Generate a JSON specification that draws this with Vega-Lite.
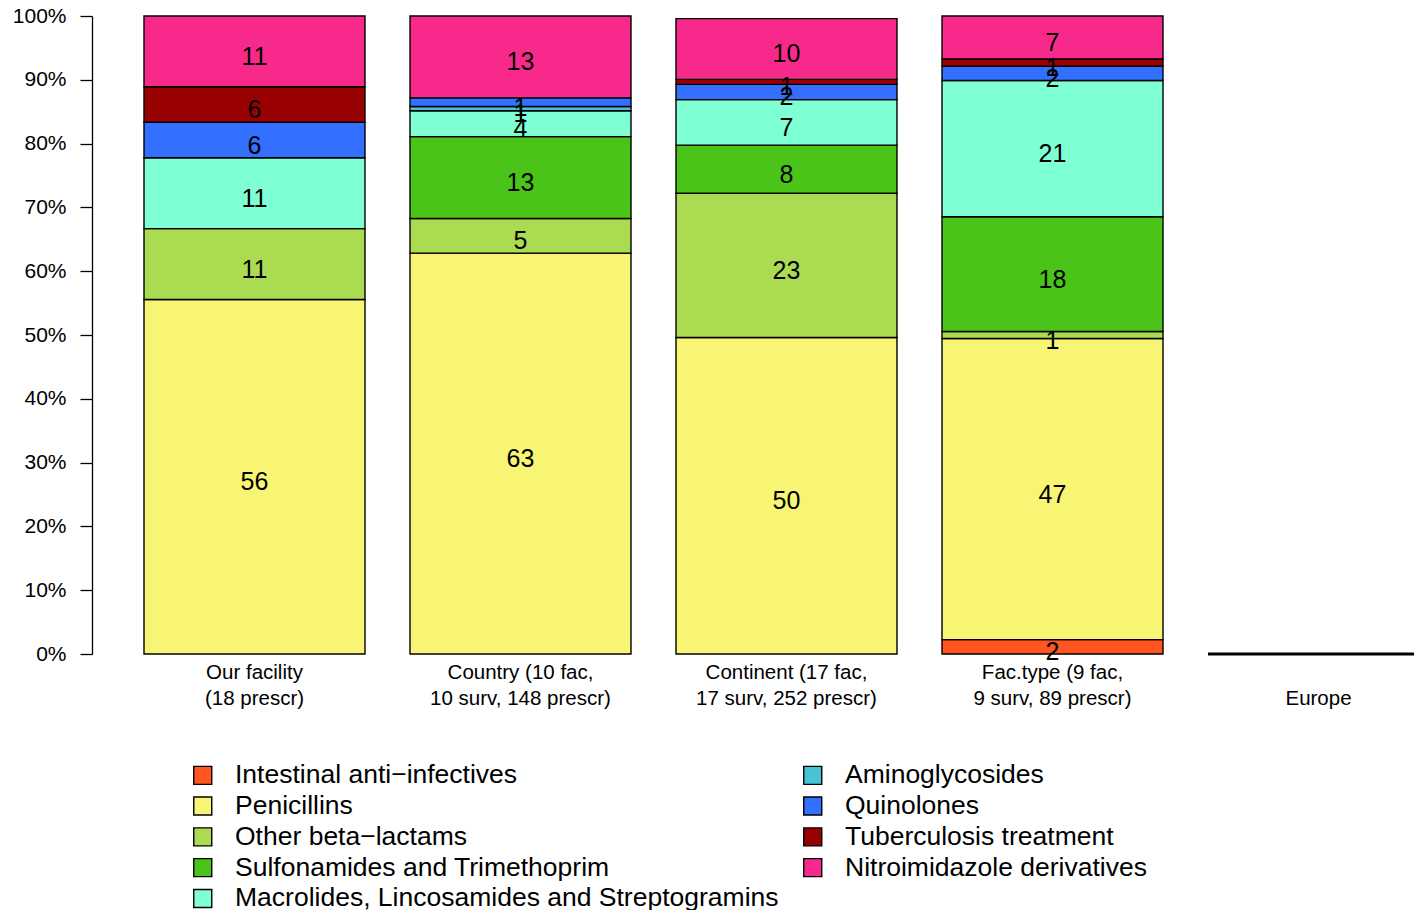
{
  "$schema": "https://vega.github.io/schema/vega-lite/v6.json",
  "width": 1322,
  "height": 638,
  "autosize": {"type": "none"},
  "padding": {"left": 92, "top": 16, "right": 0, "bottom": 256},
  "background": "white",
  "config": {
    "view": {"stroke": null},
    "font": "Liberation Sans",
    "text": {"font": "Liberation Sans"}
  },
  "data": {
    "values": [
      {"site": "Our facility\n(18 prescr)", "cat": "Penicillins", "k": 2, "pct": 55.56},
      {"site": "Our facility\n(18 prescr)", "cat": "Other beta−lactams", "k": 3, "pct": 11.11},
      {"site": "Our facility\n(18 prescr)", "cat": "Macrolides, Lincosamides and Streptogramins", "k": 5, "pct": 11.11},
      {"site": "Our facility\n(18 prescr)", "cat": "Quinolones", "k": 7, "pct": 5.56},
      {"site": "Our facility\n(18 prescr)", "cat": "Tuberculosis treatment", "k": 8, "pct": 5.56},
      {"site": "Our facility\n(18 prescr)", "cat": "Nitroimidazole derivatives", "k": 9, "pct": 11.11},
      {"site": "Country (10 fac,\n10 surv, 148 prescr)", "cat": "Penicillins", "k": 2, "pct": 62.84},
      {"site": "Country (10 fac,\n10 surv, 148 prescr)", "cat": "Other beta−lactams", "k": 3, "pct": 5.41},
      {"site": "Country (10 fac,\n10 surv, 148 prescr)", "cat": "Sulfonamides and Trimethoprim", "k": 4, "pct": 12.84},
      {"site": "Country (10 fac,\n10 surv, 148 prescr)", "cat": "Macrolides, Lincosamides and Streptogramins", "k": 5, "pct": 4.05},
      {"site": "Country (10 fac,\n10 surv, 148 prescr)", "cat": "Aminoglycosides", "k": 6, "pct": 0.68},
      {"site": "Country (10 fac,\n10 surv, 148 prescr)", "cat": "Quinolones", "k": 7, "pct": 1.35},
      {"site": "Country (10 fac,\n10 surv, 148 prescr)", "cat": "Nitroimidazole derivatives", "k": 9, "pct": 12.84},
      {"site": "Continent (17 fac,\n17 surv, 252 prescr)", "cat": "Penicillins", "k": 2, "pct": 49.6},
      {"site": "Continent (17 fac,\n17 surv, 252 prescr)", "cat": "Other beta−lactams", "k": 3, "pct": 22.62},
      {"site": "Continent (17 fac,\n17 surv, 252 prescr)", "cat": "Sulfonamides and Trimethoprim", "k": 4, "pct": 7.54},
      {"site": "Continent (17 fac,\n17 surv, 252 prescr)", "cat": "Macrolides, Lincosamides and Streptogramins", "k": 5, "pct": 7.14},
      {"site": "Continent (17 fac,\n17 surv, 252 prescr)", "cat": "Quinolones", "k": 7, "pct": 2.38},
      {"site": "Continent (17 fac,\n17 surv, 252 prescr)", "cat": "Tuberculosis treatment", "k": 8, "pct": 0.79},
      {"site": "Continent (17 fac,\n17 surv, 252 prescr)", "cat": "Nitroimidazole derivatives", "k": 9, "pct": 9.52},
      {"site": "Fac.type (9 fac,\n9 surv, 89 prescr)", "cat": "Intestinal anti−infectives", "k": 1, "pct": 2.25},
      {"site": "Fac.type (9 fac,\n9 surv, 89 prescr)", "cat": "Penicillins", "k": 2, "pct": 47.19},
      {"site": "Fac.type (9 fac,\n9 surv, 89 prescr)", "cat": "Other beta−lactams", "k": 3, "pct": 1.12},
      {"site": "Fac.type (9 fac,\n9 surv, 89 prescr)", "cat": "Sulfonamides and Trimethoprim", "k": 4, "pct": 17.98},
      {"site": "Fac.type (9 fac,\n9 surv, 89 prescr)", "cat": "Macrolides, Lincosamides and Streptogramins", "k": 5, "pct": 21.35},
      {"site": "Fac.type (9 fac,\n9 surv, 89 prescr)", "cat": "Quinolones", "k": 7, "pct": 2.25},
      {"site": "Fac.type (9 fac,\n9 surv, 89 prescr)", "cat": "Tuberculosis treatment", "k": 8, "pct": 1.12},
      {"site": "Fac.type (9 fac,\n9 surv, 89 prescr)", "cat": "Nitroimidazole derivatives", "k": 9, "pct": 6.74},
      {"site": "\nEurope", "cat": "Penicillins", "k": 2, "pct": 0}
    ]
  },
  "encoding": {
    "x": {
      "field": "site",
      "type": "nominal",
      "scale": {
        "domain": ["Our facility\n(18 prescr)", "Country (10 fac,\n10 surv, 148 prescr)", "Continent (17 fac,\n17 surv, 252 prescr)", "Fac.type (9 fac,\n9 surv, 89 prescr)", "\nEurope"],
        "range": [52, 1337],
        "paddingInner": 0.1692,
        "paddingOuter": 0
      },
      "axis": {
        "title": null,
        "domain": false,
        "ticks": false,
        "tickSize": 0,
        "labelAngle": 0,
        "labelPadding": 8,
        "labelBaseline": "top",
        "labelLineHeight": 26.5,
        "labelFontSize": 20.5,
        "labelLimit": 600,
        "labelColor": "black",
        "labelFont": "Liberation Sans",
        "labelExpr": "split(datum.label, '\\n')"
      }
    },
    "y": {
      "field": "pct",
      "type": "quantitative",
      "stack": "zero",
      "scale": {"domain": [0, 100], "nice": false, "zero": true},
      "axis": {
        "title": null,
        "values": [0, 10, 20, 30, 40, 50, 60, 70, 80, 90, 100],
        "labelExpr": "datum.value + '%'",
        "grid": false,
        "tickSize": 12,
        "tickColor": "black",
        "tickWidth": 1.3,
        "domainColor": "black",
        "domainWidth": 1.3,
        "labelPadding": 14,
        "labelFontSize": 21,
        "labelColor": "black",
        "labelFont": "Liberation Sans",
        "labelOverlap": false,
        "labelFlush": false
      }
    },
    "order": {"field": "k", "type": "quantitative"}
  },
  "layer": [
    {
      "mark": {"type": "bar", "stroke": "black"},
      "encoding": {
        "strokeWidth": {"condition": {"test": "datum.pct == 0", "value": 3}, "value": 1.4},
        "color": {
          "field": "cat",
          "type": "nominal",
          "scale": {
            "domain": ["Intestinal anti−infectives", "Penicillins", "Other beta−lactams", "Sulfonamides and Trimethoprim", "Macrolides, Lincosamides and Streptogramins", "Aminoglycosides", "Quinolones", "Tuberculosis treatment", "Nitroimidazole derivatives"],
            "range": ["#FF5621", "#F8F574", "#ABDB51", "#4BC41A", "#7FFFD4", "#47C4D4", "#3370FF", "#990000", "#F72A8B"]
          },
          "legend": {
            "title": null,
            "orient": "none",
            "legendX": 97.5,
            "legendY": 746,
            "columns": 2,
            "columnPadding": 20,
            "rowPadding": 3.8,
            "padding": 0,
            "symbolType": "square",
            "symbolSize": 324,
            "symbolStrokeColor": "black",
            "symbolStrokeWidth": 1.4,
            "symbolOpacity": 1,
            "labelFontSize": 26.5,
            "labelFont": "Liberation Sans",
            "labelColor": "black",
            "labelOffset": 19,
            "labelLimit": 1000
          }
        }
      }
    },
    {
      "transform": [{"filter": "datum.pct > 0"}],
      "mark": {"type": "text", "fontSize": 25, "font": "Liberation Sans", "color": "black", "baseline": "middle", "align": "center", "dy": 5.5},
      "encoding": {
        "y": {"field": "pct", "type": "quantitative", "stack": "zero", "bandPosition": 0.5},
        "detail": {"field": "cat", "type": "nominal"},
        "text": {"field": "pct", "type": "quantitative", "format": ".0f"}
      }
    }
  ]
}
